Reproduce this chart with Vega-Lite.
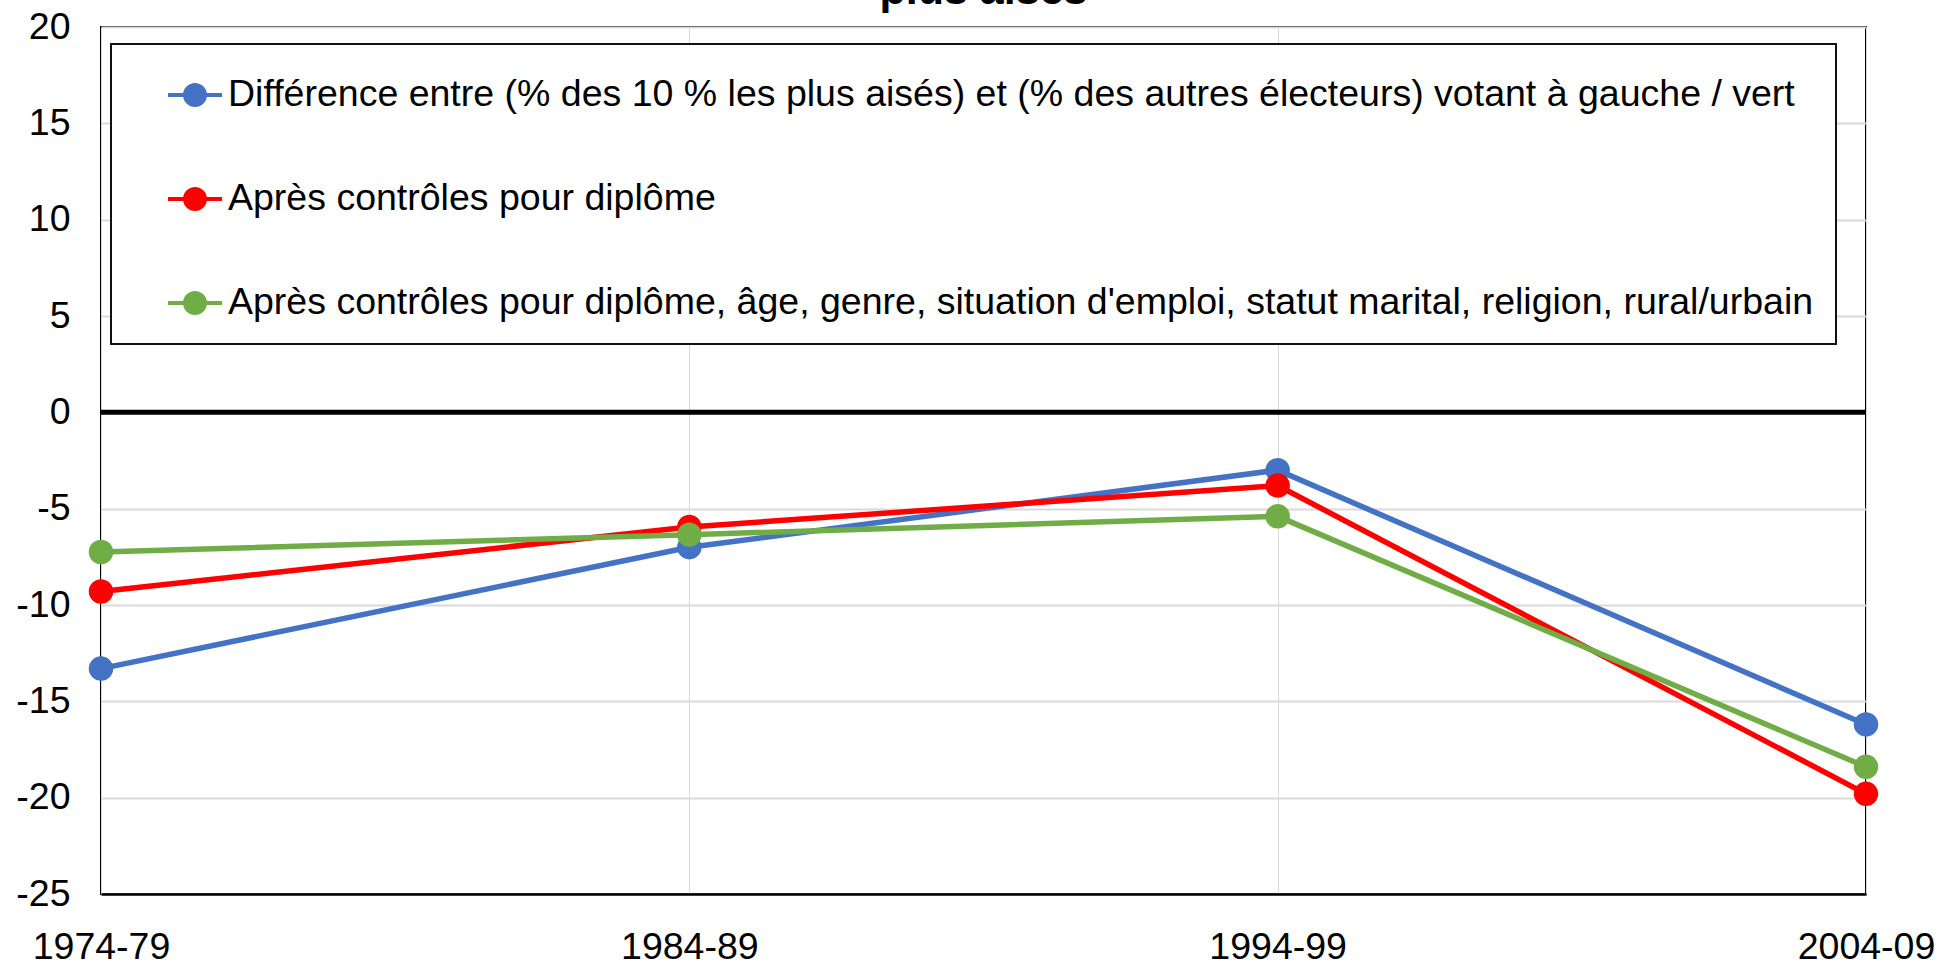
{
  "$schema": "https://vega.github.io/schema/vega-lite/v6.json",
  "width": 1765,
  "height": 867,
  "autosize": {"type": "none"},
  "padding": {"left": 101, "top": 27, "right": 73, "bottom": 71},
  "background": "white",
  "title": {
    "text": "plus aisés",
    "fontSize": 43,
    "font": "Liberation Sans",
    "fontWeight": "bold",
    "color": "black",
    "anchor": "middle",
    "offset": 0,
    "dy": 5
  },
  "config": {
    "font": "Liberation Sans",
    "view": {"stroke": "black", "strokeWidth": 2}
  },
  "datasets": {
    "series": [
      {"periode": "1974-79", "serie": "Différence entre (% des 10 % les plus aisés) et (% des autres électeurs) votant à gauche / vert", "valeur": -13.3},
      {"periode": "1984-89", "serie": "Différence entre (% des 10 % les plus aisés) et (% des autres électeurs) votant à gauche / vert", "valeur": -7.0},
      {"periode": "1994-99", "serie": "Différence entre (% des 10 % les plus aisés) et (% des autres électeurs) votant à gauche / vert", "valeur": -3.0},
      {"periode": "2004-09", "serie": "Différence entre (% des 10 % les plus aisés) et (% des autres électeurs) votant à gauche / vert", "valeur": -16.2},
      {"periode": "1974-79", "serie": "Après contrôles pour diplôme", "valeur": -9.3},
      {"periode": "1984-89", "serie": "Après contrôles pour diplôme", "valeur": -5.95},
      {"periode": "1994-99", "serie": "Après contrôles pour diplôme", "valeur": -3.8},
      {"periode": "2004-09", "serie": "Après contrôles pour diplôme", "valeur": -19.8},
      {"periode": "1974-79", "serie": "Après contrôles pour diplôme, âge, genre, situation d'emploi, statut marital, religion, rural/urbain", "valeur": -7.25},
      {"periode": "1984-89", "serie": "Après contrôles pour diplôme, âge, genre, situation d'emploi, statut marital, religion, rural/urbain", "valeur": -6.35},
      {"periode": "1994-99", "serie": "Après contrôles pour diplôme, âge, genre, situation d'emploi, statut marital, religion, rural/urbain", "valeur": -5.4},
      {"periode": "2004-09", "serie": "Après contrôles pour diplôme, âge, genre, situation d'emploi, statut marital, religion, rural/urbain", "valeur": -18.4}
    ],
    "zero": [{"y": 0}]
  },
  "layer": [
    {
      "data": {"name": "series"},
      "mark": {"type": "line", "strokeWidth": 5.5},
      "encoding": {
        "x": {
          "field": "periode", "type": "ordinal",
          "scale": {"type": "point", "padding": 0},
          "axis": {
            "title": null, "labelAngle": 0, "labelFontSize": 37.5, "labelColor": "black",
            "labelFont": "Liberation Sans", "ticks": false, "domain": true, "domainColor": "black", "domainWidth": 2.5,
            "labelPadding": 34, "grid": true, "gridColor": "#d9d9d9", "gridWidth": 1
          }
        },
        "y": {
          "field": "valeur", "type": "quantitative",
          "scale": {"domain": [-25, 20], "nice": false, "zero": false},
          "axis": {
            "title": null, "values": [-25, -20, -15, -10, -5, 0, 5, 10, 15, 20],
            "labelExpr": "replace(datum.label, '\u2212', '-')",
            "labelFontSize": 37.5, "labelColor": "black", "labelFont": "Liberation Sans",
            "ticks": false, "domain": false, "labelPadding": 31,
            "grid": true, "gridColor": "#d9d9d9", "gridWidth": 2
          }
        },
        "color": {
          "field": "serie", "type": "nominal",
          "scale": {
            "domain": [
              "Différence entre (% des 10 % les plus aisés) et (% des autres électeurs) votant à gauche / vert",
              "Après contrôles pour diplôme",
              "Après contrôles pour diplôme, âge, genre, situation d'emploi, statut marital, religion, rural/urbain"
            ],
            "range": ["#4472C4", "#FF0000", "#70AD47"]
          },
          "legend": {
            "title": null,
            "orient": "none",
            "legendX": 10,
            "legendY": 17,
            "direction": "vertical",
            "fillColor": "white",
            "strokeColor": "#111111",
            "padding": 22,
            "labelFontSize": 37.5,
            "labelFont": "Liberation Sans",
            "labelColor": "black",
            "labelLimit": 3000,
            "labelOffset": 4,
            "rowPadding": 56,
            "symbolType": "M-1,0L1,0M0.37,0A0.37,0.37,0,1,1,-0.37,0A0.37,0.37,0,1,1,0.37,0Z",
            "symbolSize": 2916,
            "symbolStrokeWidth": 4,
            "symbolOffset": 33,
            "symbolOpacity": 1,
            "encode": {
              "legend": {
                "update": {"strokeWidth": {"value": 2}}
              },
              "symbols": {
                "update": {
                  "stroke": {"signal": "scale('color', datum.value)"},
                  "fill": {"signal": "scale('color', datum.value)"}
                }
              }
            }
          }
        }
      }
    },
    {
      "data": {"name": "zero"},
      "mark": {"type": "rule", "color": "black", "strokeWidth": 5},
      "encoding": {"y": {"field": "y", "type": "quantitative"}}
    },
    {
      "data": {"name": "series"},
      "mark": {"type": "point", "filled": true, "size": 600, "opacity": 1},
      "encoding": {
        "x": {"field": "periode", "type": "ordinal"},
        "y": {"field": "valeur", "type": "quantitative"},
        "color": {"field": "serie", "type": "nominal"}
      }
    }
  ]
}
